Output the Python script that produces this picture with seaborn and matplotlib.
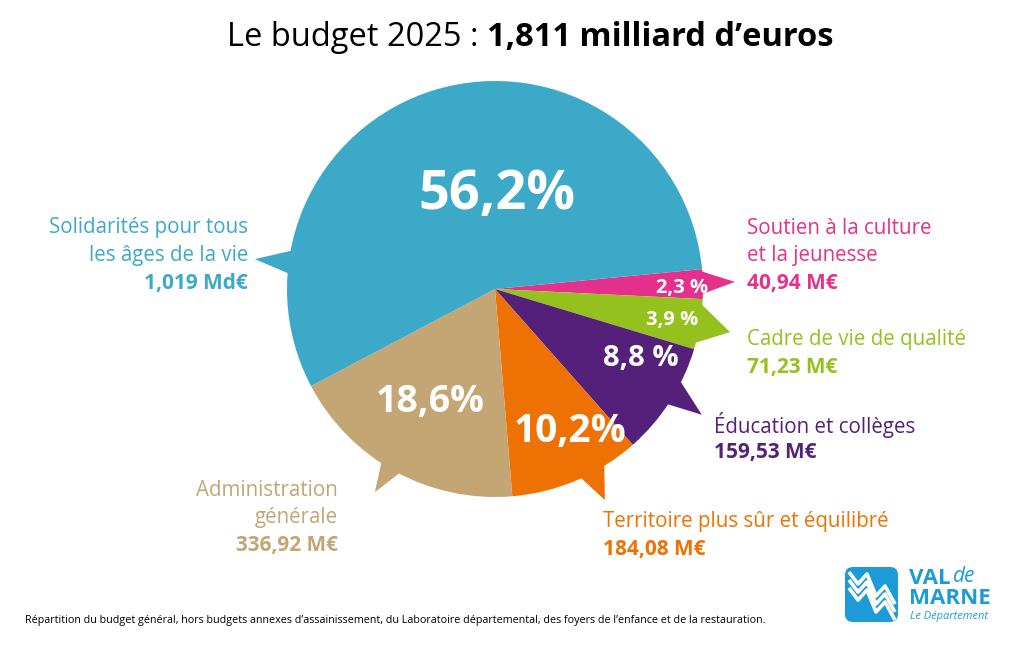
import numpy as np
import matplotlib
matplotlib.use("Agg")
import matplotlib.pyplot as plt
import seaborn as sns
from matplotlib.patches import Polygon, FancyBboxPatch

# ---- data ----
categories = ["Soutien à la culture\net la jeunesse", "Cadre de vie de qualité",
              "Éducation et collèges", "Territoire plus sûr et équilibré",
              "Administration\ngénérale", "Solidarités pour tous\nles âges de la vie"]
shares = [2.3, 3.9, 8.8, 10.2, 18.6, 56.2]
share_labels = ["2,3 %", "3,9 %", "8,8 %", "10,2%", "18,6%", "56,2%"]
amounts = ["40,94 M€", "71,23 M€", "159,53 M€", "184,08 M€", "336,92 M€", "1,019 Md€"]
colors = ["#E6318C", "#95C11F", "#55207A", "#EE7203", "#C4A574", "#3DA9C9"]

sns.set_theme(style="white")
palette = sns.color_palette(colors)
plt.rcParams['font.family'] = ['Open Sans', 'DejaVu Sans']

W, H = 1024, 656
fig = plt.figure(figsize=(W / 100, H / 100), dpi=100)
ax = fig.add_axes([0, 0, 1, 1])

def Y(py):
    return H - py

CX, CY, R = 495, Y(289), 208
wedges, _ = ax.pie(shares, colors=palette, startangle=5.5, counterclock=False,
                   center=(CX, CY), radius=R, wedgeprops=dict(linewidth=0))
ax.set_xlim(0, W)
ax.set_ylim(0, H)
ax.set_aspect('equal')
ax.axis('off')

def polar(a, r):
    t = np.deg2rad(a)
    return CX + r * np.cos(t), CY + r * np.sin(t)

# speech-bubble tails (base angle 1, base angle 2, tip angle, tip radius)
tails = [(5.5, -2.0, 1.7, 240), (-3.0, -16.0, -10.4, 239), (-25.6, -34.2, -31.3, 242),
         (-57.3, -66.2, -62.5, 238), (-116.7, -123.8, -120.6, 236), (168.7, 176.2, 172.9, 242)]
for (a1, a2, at, rt), c in zip(tails, palette):
    pts = [polar(a1, R - 6), polar(at, rt), polar(a2, R - 6)]
    ax.add_patch(Polygon(pts, closed=True, facecolor=c, edgecolor='none', zorder=0.9))

# percentage labels inside slices (angle, radius, size)
pct_pos = [(0.4, 187, 14.5), (-10, 180, 14.5), (-25.6, 162, 21), (-62.3, 161, 28),
           (-120, 130, 27), (88.8, 94, 39)]
for lab, (a, r, s) in zip(share_labels, pct_pos):
    x, y = polar(a, r)
    ax.text(x, y, lab, color='white', fontsize=s, fontweight='bold',
            ha='center', va='center', zorder=3)

# category labels (x, first line center y in px, alignment)
lab_pos = [(747, 228, 'left'), (747, 340, 'left'), (714, 425, 'left'),
           (603, 522, 'left'), (338, 490, 'right'), (248, 228, 'right')]
LS = 27.5
for name, amt, c, (x, y0, ha) in zip(categories, amounts, palette, lab_pos):
    lines = name.split("\n")
    for i, ln in enumerate(lines):
        ax.text(x, Y(y0 + i * LS), ln, color=c, fontsize=14.8, ha=ha, va='center')
    ax.text(x, Y(y0 + len(lines) * LS), amt, color=c, fontsize=15,
            fontweight='bold', ha=ha, va='center')

# title in two weights
fig.canvas.draw()
r = fig.canvas.get_renderer()
t1 = fig.text(0, 0, "Le budget 2025 : ", fontsize=23.5, color='black', va='center')
t2 = fig.text(0, 0, "1,811 milliard d’euros", fontsize=23.5, fontweight='bold',
              color='black', va='center')
w1 = t1.get_window_extent(r).width
w2 = t2.get_window_extent(r).width
x0 = (530 - (w1 + w2) / 2) / W
t1.set_position((x0, Y(37) / H))
t2.set_position((x0 + w1 / W, Y(37) / H))

# footnote
fig.text(25 / W, Y(621) / H,
         "Répartition du budget général, hors budgets annexes d’assainissement, du Laboratoire "
         "départemental, des foyers de l’enfance et de la restauration.",
         fontsize=7.75, color='black', va='center', ha='left')

# logo
LB = "#1C9BD8"
ax.add_patch(FancyBboxPatch((845, Y(622)), 53, 55, boxstyle="round,pad=0,rounding_size=8",
                            facecolor=LB, edgecolor='none'))
for k in range(3):
    xs = np.array([849, 858, 867, 876, 885, 895]) + 0
    ys = np.array([572, 584, 574, 596, 586, 604]) + k * 8
    ax.plot(xs, [Y(v) for v in ys], color='white', lw=2.6, solid_capstyle='butt',
            solid_joinstyle='round', zorder=3)
ax.text(909, Y(579), "VAL", color=LB, fontsize=16, fontweight='bold', ha='left', va='center')
ax.text(953, Y(577), "de", color=LB, fontsize=15, style='italic', ha='left', va='center')
ax.text(909, Y(598), "MARNE", color=LB, fontsize=16, fontweight='bold', ha='left', va='center')
ax.text(910, Y(617), "Le Département", color=LB, fontsize=8, style='italic', ha='left', va='center')

fig.savefig("out.png", dpi=100)
